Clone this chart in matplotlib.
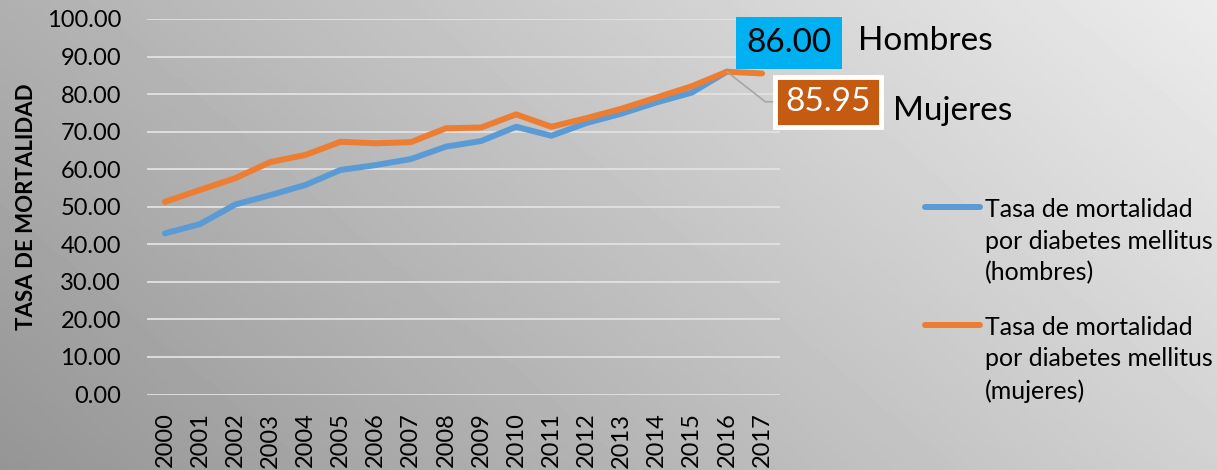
import numpy as np
import matplotlib.pyplot as plt

years = [str(y) for y in range(2000, 2018)]
hombres = [42.9, 45.4, 50.6, 53.1, 55.8, 59.8, 61.1, 62.7, 66.0, 67.5,
           71.3, 68.9, 72.3, 74.8, 77.8, 80.4, 86.00]
mujeres = [51.3, 54.5, 57.6, 61.9, 63.8, 67.3, 66.9, 67.2, 70.9, 71.1,
           74.6, 71.3, 73.6, 76.1, 79.1, 82.1, 85.95, 85.5]
yticks = np.arange(0, 101, 10)

plt.rcParams['font.family'] = ['Lato', 'DejaVu Sans']

fig = plt.figure(figsize=(12.17, 4.70), dpi=100)

# fondo degradado gris
bg = fig.add_axes([0, 0, 1, 1], zorder=-1)
gx, gy = np.meshgrid(np.linspace(0, 1, 300), np.linspace(0, 1, 120))
grad = 0.925 - 0.235 * (1 - gx) - 0.105 * gy
bg.imshow(grad, cmap='gray', vmin=0, vmax=1, aspect='auto', extent=[0, 1, 0, 1])
bg.axis('off')

ax = fig.add_axes([0.1211, 0.1606, 0.5195, 0.799])
ax.patch.set_alpha(0)

x = np.arange(len(years))
ax.plot(x[:len(hombres)], hombres, color='#5B9BD5', lw=4.3, solid_capstyle='round',
        label='Tasa de mortalidad\npor diabetes mellitus\n(hombres)', zorder=3)
ax.plot(x[:len(mujeres)], mujeres, color='#ED7D31', lw=4.3, solid_capstyle='round',
        label='Tasa de mortalidad\npor diabetes mellitus\n(mujeres)', zorder=4)

ax.set_xlim(-0.5, len(years) - 0.5)
ax.set_ylim(0, 100)
ax.set_xticks(x)
ax.set_xticklabels(years, rotation=90, fontsize=17)
ax.set_yticks(yticks)
ax.set_yticklabels([f'{v:.2f}' for v in yticks], fontsize=17)
ax.tick_params(axis='y', length=0, pad=19)
ax.tick_params(axis='x', length=0, pad=13)
ax.yaxis.grid(True, color='#e2e2e2', lw=1.3)
ax.set_axisbelow(True)
for s in ax.spines.values():
    s.set_visible(False)
ax.set_ylabel('TASA DE MORTALIDAD', fontsize=16, fontweight='bold')
ax.yaxis.set_label_coords(-0.175, 0.5)

# etiquetas de datos
ih = len(hombres) - 1
ax.annotate(f'{hombres[ih]:.2f}', xy=(ih, hombres[ih]), xytext=(62, 28.5),
            textcoords='offset pixels', ha='center', va='center', fontsize=24,
            bbox=dict(boxstyle='square,pad=0.32', fc='#00B0F0', ec='none'), zorder=6)
ax.annotate('Hombres', xy=(ih, hombres[ih]), xytext=(131, 31),
            textcoords='offset pixels', ha='left', va='center', fontsize=24)
im = 16
ax.annotate(f'{mujeres[im]:.2f}', xy=(im, mujeres[im]), xytext=(101, -30),
            textcoords='offset pixels', ha='center', va='center', fontsize=24, color='white',
            bbox=dict(boxstyle='square,pad=0.3', fc='#C55A11', ec='white', lw=3.5),
            arrowprops=dict(arrowstyle='-', color='#a6a6a6', lw=1.2, shrinkA=0, shrinkB=0,
                            connectionstyle='angle,angleA=0,angleB=-38,rad=0'), zorder=6)
ax.annotate('Mujeres', xy=(im, mujeres[im]), xytext=(166, -39),
            textcoords='offset pixels', ha='left', va='center', fontsize=24)

leg = ax.legend(loc='upper left', bbox_to_anchor=(925 / 1217, 1 - 198 / 470),
                bbox_transform=fig.transFigure, frameon=False, fontsize=18,
                handlelength=2.2, handletextpad=0.2, borderpad=0, borderaxespad=0,
                labelspacing=1.25)
for t in leg.get_texts():
    t.set_linespacing(1.45)
# linea de la leyenda alineada con la primera linea del texto
for col in leg._legend_handle_box.get_children():
    for item in col.get_children():
        item.align = 'top'

fig.savefig('out.png', dpi=100)
